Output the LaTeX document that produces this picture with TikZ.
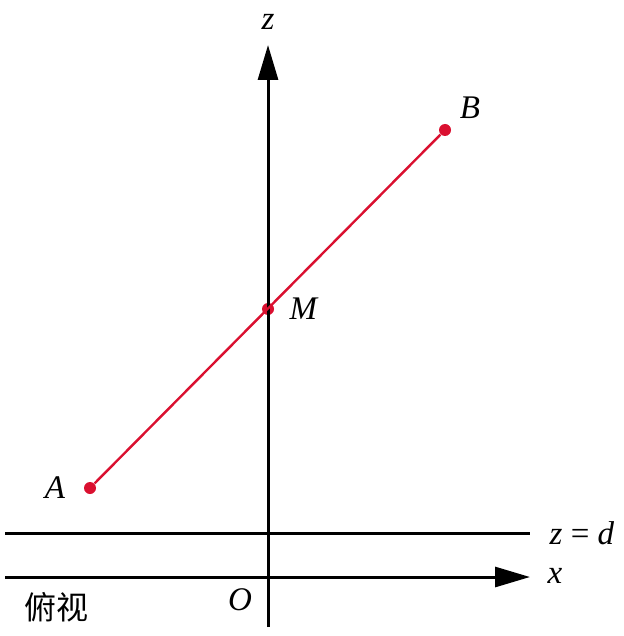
\documentclass[tikz,border=0pt]{standalone}
\usepackage{fontspec}
\setmainfont{Liberation Serif}
\newfontfamily\cjk{Noto Sans CJK SC}
\usetikzlibrary{arrows.meta, positioning}
\definecolor{segred}{RGB}{218,16,48}

\begin{document}
\begin{tikzpicture}[x=0.5pt, y=-0.5pt, font=\fontsize{16.5}{19}\selectfont]
			% 定义样式
			\tikzstyle{axis} = [line width=1.5pt, -{Triangle[length=17.5pt, width=10pt]}]
			\tikzstyle{plain} = [line width=1.5pt]
			\tikzstyle{seg} = [segred, line width=1.2pt]
			\tikzstyle{dot} = [circle, fill=segred, inner sep=0pt, minimum size=6pt]
			\tikzstyle{lab} = [inner sep=0pt]
			\useasboundingbox (0,0) rectangle (623,636);
			
			% 坐标轴端点
			\coordinate (zbot) at (268,627);
			\coordinate (ztop) at (268,45);
			\coordinate (xleft) at (5,577);
			\coordinate (xright) at (530,577);
			\coordinate (dleft) at (5,533);
			\coordinate (dright) at (530,533);
			
			% 点
			\node [dot] (A) at (90,488) {};
			\node [dot] (M) at (268,309) {};
			\node [dot] (B) at (445,130) {};
			
			% 绘制直线
			\draw [plain] (dleft) -- (dright);
			\draw [axis] (xleft) -- (xright);
			\draw [axis] (zbot) -- (ztop);
			\draw [seg] (A) -- (B);
			
			% 标注
			\node [lab] (zlab) at (268,22) {\textit{z}};
			\node [lab] (xlab) at (555,576) {\textit{x}};
			\node [lab] (dlab) at (582,533) {\textit{z} = \textit{d}};
			\node [lab] (olab) at (240,600) {\textit{O}};
			\node [lab] (alab) at (55,488) {\textit{A}};
			\node [lab] (blab) at (470,108) {\textit{B}};
			\node [lab] (mlab) at (304,309) {\textit{M}};
			\node [lab] (view) at (57,607) {\cjk\fontsize{16}{18}\selectfont 俯视};
		\end{tikzpicture}
\end{document}
